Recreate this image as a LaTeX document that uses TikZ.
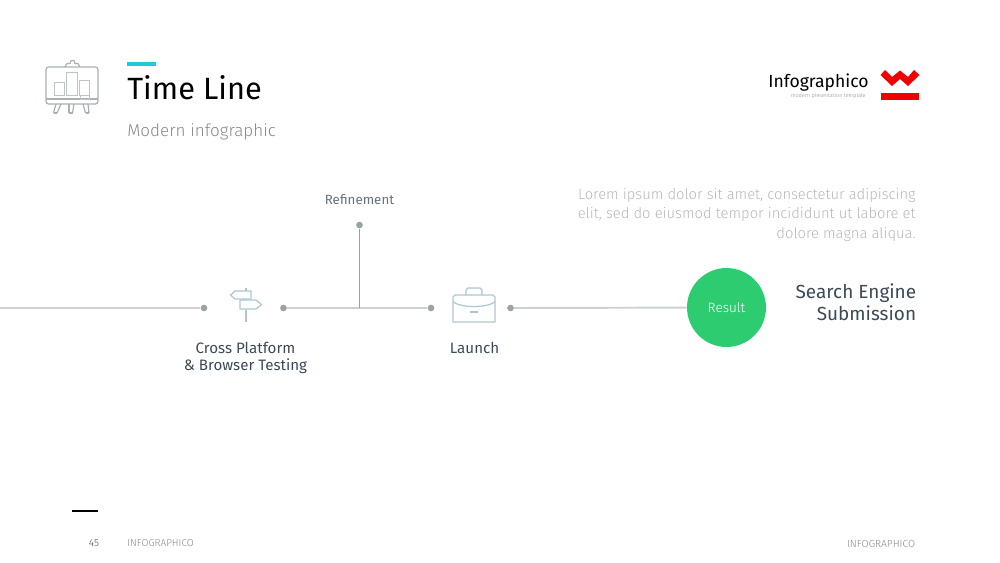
\documentclass[tikz,border=0pt]{standalone}
\usepackage{fontspec}
\setmainfont{Fira Sans}
\newfontfamily\lightfont{Fira Sans Light}
\usepackage{xcolor}
\usetikzlibrary{calc}

\definecolor{lineGrey}{HTML}{CDD2D1}
\definecolor{dotGrey}{HTML}{98A3A2}
\definecolor{iconBlue}{HTML}{AFC6D1}
\definecolor{boardGrey}{HTML}{A9B2B2}
\definecolor{labelDark}{HTML}{3C4A56}
\definecolor{labelMid}{HTML}{66727C}
\definecolor{textGrey}{HTML}{B4B9BC}
\definecolor{subGrey}{HTML}{85898C}
\definecolor{resultGreen}{HTML}{2ECC71}
\definecolor{accentCyan}{HTML}{1CCBDA}
\definecolor{logoRed}{HTML}{F00000}

\tikzset{
    timeline/.style={draw=lineGrey, line width=1.1pt},
    dotnode/.style={circle, fill=dotGrey, inner sep=0pt, minimum size=3.8pt},
    steplabel/.style={text=labelDark, font=\fontsize{8.6}{9.7}\selectfont, align=center},
    icon/.style={draw=iconBlue, line width=0.7pt, line join=round},
    board/.style={draw=boardGrey, line width=0.7pt, line join=round},
    thinbar/.style={draw=boardGrey!75, line width=0.55pt},
}

\begin{document}
\begin{tikzpicture}[x=0.02cm, y=-0.02cm]
\useasboundingbox (0,0) rectangle (1000,562);

% Header
\fill[accentCyan] (127,62) rectangle (156,65.5);
\node[anchor=west, inner sep=0pt, font=\fontsize{17.5}{20}\selectfont] (title) at (127,88) {Time Line};
\node[anchor=west, inner sep=0pt, text=subGrey, font=\lightfont\fontsize{9.7}{11}\selectfont] (subtitle) at (127,131.5) {Modern infographic};

% Presentation board icon
\draw[board, rounded corners=1.5pt] (46,67) rectangle (98,104);
\draw[board] (46,99) -- (98,99);
\draw[board] (65,67) -- (67,63.5) -- (70,63.5) -- (71,60.5) -- (74,60.5) -- (75,63.5) -- (78,63.5) -- (80,67);
\draw[thinbar] (54.5,82) rectangle (64,95);
\draw[thinbar] (66.5,72) rectangle (77,95);
\draw[thinbar] (79.5,80) rectangle (89,95);
\draw[thinbar] (80,95) rectangle (89,99);
\foreach \xa/\xb in {56/53.5, 69/69, 83/85.5} {
    \draw[board] (\xa,104) -- (\xb,113);
    \draw[board] (\xa+5,104) -- (\xb+3.5,113);
    \draw[board] (\xb,113) -- (\xb+3.5,113);
}

% Logo
\node[anchor=west, inner sep=0pt, font=\fontsize{10}{12}\selectfont] (logotext) at (768,82.5) {Infographico};
\node[anchor=east, inner sep=0pt, text=subGrey, font=\lightfont\fontsize{3.1}{3}\selectfont] (logosub) at (866,96.5) {modern presentation template};
\fill[logoRed] (880.5,75) -- (885,70) -- (892,77) -- (900,70.5) -- (908,77) -- (914,70) -- (919.5,75) -- (908,86) -- (900,79) -- (892,86) -- cycle;
\fill[logoRed] (880.5,93) rectangle (919,99.5);

% Time line
\coordinate (start) at (0,308);
\node[dotnode] (dotA) at (204,308) {};
\node[dotnode] (dotB) at (283.5,308) {};
\node[dotnode] (dotC) at (431,308) {};
\node[dotnode] (dotD) at (510.5,308) {};
\node[dotnode] (dotTop) at (359.5,225) {};
\coordinate (branch) at (359.5,308);
\node[circle, fill=resultGreen, inner sep=0pt, minimum size=1.58cm, text=white, font=\lightfont\fontsize{7.7}{9}\selectfont] (result) at (726.5,307.5) {Result};

\draw[timeline] (start) -- (dotA);
\draw[timeline] (dotB) -- (dotC);
\draw[timeline] (dotD) -- (result);
\draw[draw=dotGrey, line width=0.6pt] (dotTop) -- (branch);

% Signpost icon
\draw[icon] (246,288) -- (246,291);
\draw[icon] (246,310) -- (246,322);
\draw[icon] (251,291) -- (235,291) -- (230.5,295) -- (235,299) -- (251,299) -- cycle;
\draw[icon] (240,300) -- (256,300) -- (261.5,304.5) -- (256,309) -- (240,309) -- cycle;

% Briefcase icon
\draw[icon] (466,295) -- (466,290) -- (468,288) -- (480,288) -- (482,290) -- (482,295);
\draw[icon] (453,297) -- (455,295) -- (493,295) -- (495,297) -- (495,322) -- (453,322) -- cycle;
\draw[icon] (453,302) .. controls (462,308) and (486,308) .. (495,302);
\draw[icon] (470,312) -- (478,312);

% Labels
\node[text=labelMid, font=\fontsize{7.6}{9}\selectfont] (refinement) at (359.5,200) {Refinement};
\node[steplabel] (crossLabel) at (245.5,357.5) {Cross Platform\\\& Browser Testing};
\node[steplabel] (launchLabel) at (474.5,348) {Launch};
\node[anchor=east, align=right, inner sep=0pt, text=textGrey, font=\lightfont\fontsize{8.4}{11.1}\selectfont] (lorem) at (916,214.5) {Lorem ipsum dolor sit amet, consectetur adipiscing\\elit, sed do eiusmod tempor incididunt ut labore et\\dolore magna aliqua.};
\node[anchor=east, align=right, inner sep=0pt, text=labelDark, font=\fontsize{10.8}{12.4}\selectfont] (searchLabel) at (916.5,302.5) {Search Engine\\Submission};

% Footer
\fill[black] (72,510) rectangle (98,512);
\node[inner sep=0pt, text=labelDark, font=\lightfont\fontsize{5.8}{7}\selectfont] (pagenum) at (94,543) {45};
\node[anchor=west, inner sep=0pt, text=subGrey, font=\lightfont\fontsize{5.7}{7}\selectfont] (footerLeft) at (127,543) {INFOGRAPHICO};
\node[anchor=east, inner sep=0pt, text=subGrey, font=\lightfont\fontsize{5.85}{7}\selectfont] (footerRight) at (915.5,544) {INFOGRAPHICO};
\end{tikzpicture}
\end{document}
